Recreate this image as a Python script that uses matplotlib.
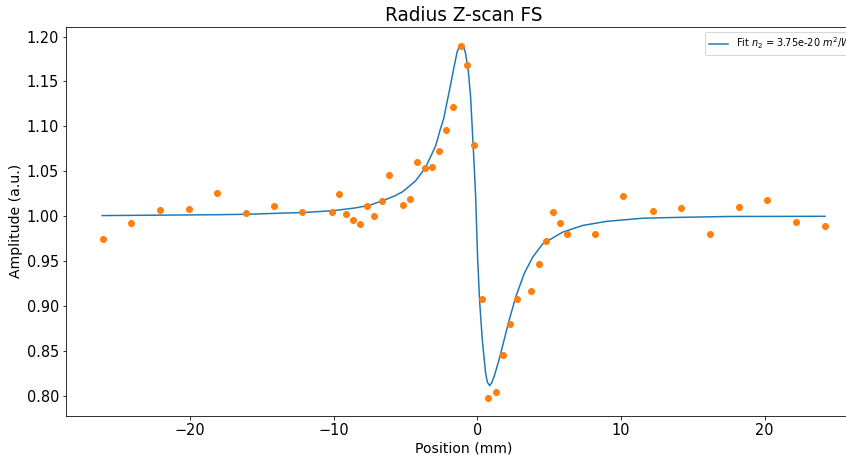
# Radius Z-scan FS: measured points and fitted curve
import numpy as np
import matplotlib
matplotlib.use("Agg")
import matplotlib.pyplot as plt

# measured data (position in mm, normalized amplitude)
pos = [-26.06, -24.08, -22.08, -20.08, -18.10, -16.06, -14.13, -12.16, -10.14,
       -9.63, -9.13, -8.63, -8.16, -7.68, -7.16, -6.66, -6.16, -5.18, -4.67,
       -4.16, -3.67, -3.18, -2.67, -2.16, -1.67, -1.16, -0.70, -0.21, 0.30,
       0.77, 1.31, 1.77, 2.28, 2.77, 3.77, 4.28, 4.77, 5.28, 5.77, 6.26,
       8.21, 10.17, 12.21, 14.21, 16.21, 18.21, 20.17, 22.17, 24.17]
amp = [0.974, 0.992, 1.007, 1.008, 1.026, 1.003, 1.011, 1.005, 1.004,
       1.025, 1.002, 0.996, 0.991, 1.011, 1.000, 1.017, 1.046, 1.012, 1.019,
       1.060, 1.054, 1.055, 1.073, 1.096, 1.122, 1.190, 1.168, 1.079, 0.907,
       0.797, 0.804, 0.845, 0.880, 0.907, 0.917, 0.947, 0.972, 1.004, 0.992, 0.980,
       0.980, 1.022, 1.006, 1.009, 0.980, 1.010, 1.018, 0.993, 0.989]

# fitted curve
fit_x = [-26.1, -22.0, -18.0, -16.0, -14.0, -12.0, -10.0, -8.5, -7.5, -6.6,
         -5.8, -5.2, -4.3, -3.6, -2.9, -2.6, -2.33, -2.09, -1.86, -1.63,
         -1.40, -1.25, -1.12, -1.00, -0.90, -0.81, -0.62, -0.46, -0.34, -0.22,
         -0.11, -0.05, 0.02, 0.16, 0.35, 0.58, 0.70, 0.86, 1.00, 1.17,
         1.52, 1.87, 2.22, 2.68, 3.27, 3.85, 4.55, 5.94, 7.34, 8.97,
         11.55, 14.0, 17.5, 24.2]
fit_y = [1.0005, 1.001, 1.0015, 1.002, 1.003, 1.004, 1.006, 1.009, 1.012, 1.017,
         1.022, 1.027, 1.039, 1.054, 1.078, 1.095, 1.109, 1.128, 1.146, 1.165,
         1.183, 1.189, 1.191, 1.189, 1.186, 1.181, 1.161, 1.132, 1.095, 1.058,
         1.021, 0.990, 0.955, 0.906, 0.862, 0.825, 0.815, 0.811, 0.814, 0.821,
         0.840, 0.862, 0.884, 0.910, 0.936, 0.954, 0.969, 0.982, 0.9895, 0.994,
         0.9976, 0.9985, 0.9995, 0.9997]

# 72 dpi so that line widths, ticks and markers come out as in the original
fig = plt.figure(figsize=(846 / 72, 457 / 72), dpi=72)
ax = fig.add_axes([0.078, 0.09, 0.94, 0.851])

ax.plot(fit_x, fit_y, color="tab:blue", lw=1.5, label="Fit $n_2$ = 3.75e-20 $m^2/W$")
ax.plot(pos, amp, "o", color="tab:orange", ms=6)

ax.set_title("Radius Z-scan FS", fontsize=18.5)
ax.set_xlabel("Position (mm)", fontsize=14)
ax.set_ylabel("Amplitude (a.u.)", fontsize=14)
ax.tick_params(labelsize=14.5)
ax.set_yticks(np.arange(0.80, 1.201, 0.05))
ax.legend(loc="upper right", fontsize=9.8)

fig.savefig("out.png", dpi=72)
